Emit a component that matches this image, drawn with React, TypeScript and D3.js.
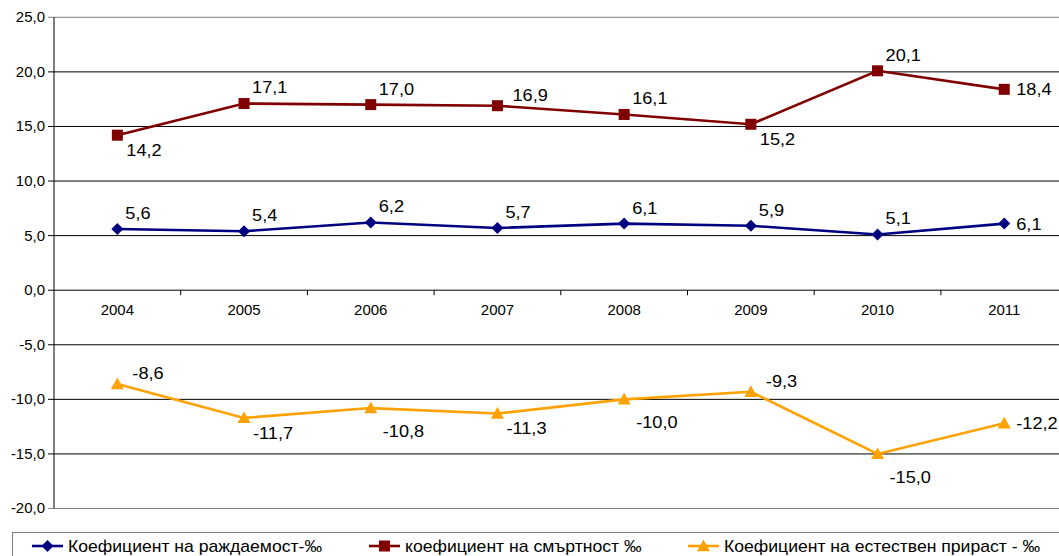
import React from "react";
import * as d3 from "d3";

const years = ["2004", "2005", "2006", "2007", "2008", "2009", "2010", "2011"];
const birthRate = [5.6, 5.4, 6.2, 5.7, 6.1, 5.9, 5.1, 6.1];
const deathRate = [14.2, 17.1, 17.0, 16.9, 16.1, 15.2, 20.1, 18.4];
const naturalGrowth = [-8.6, -11.7, -10.8, -11.3, -10.0, -9.3, -15.0, -12.2];
const yTicks = [-20, -15, -10, -5, 0, 5, 10, 15, 20, 25];
const seriesNames = [
  "Коефициент на раждаемост-‰",
  "коефициент на смъртност ‰",
  "Коефициент на естествен прираст - ‰",
];
// label placement codes per point (a/A = above-right, b/B = below-right, r = right)
const birthPlace = ["a", "a", "a", "a", "a", "a", "a", "r"];
const deathPlace = ["b", "a", "a", "A", "a", "b", "a", "r"];
const naturalPlace = ["A", "b", "B", "b", "B", "A", "B", "r"];

const W = 1059;
const H = 556;
const left = 54;
const bandW = 126.7;
const top = 17.3;
const bottom = 508.5;

const fmt = (v: number) => v.toFixed(1).replace(".", ",");

const STX = (props: any) => {
  const { x, y, sx = 1.07, anchor = "start", size = 16, children } = props;
  return (
    <g transform={`translate(${x},${y}) scale(${sx},1)`}>
      <text x={0} y={0} dy="0.35em" textAnchor={anchor} fontSize={size} fill="#000">
        {children}
      </text>
    </g>
  );
};

export default function App() {
  const x = d3
    .scaleBand<string>()
    .domain(years)
    .range([left, left + bandW * years.length]);
  const cx = (y: string) => (x(y) as number) + x.bandwidth() / 2;
  const y = d3.scaleLinear().domain([-20, 25]).range([bottom, top]);
  const line = d3
    .line<number>()
    .x((_, i) => cx(years[i]))
    .y((d) => y(d));

  const series = [
    { data: birthRate, color: "#000080", marker: "diamond", place: birthPlace },
    { data: deathRate, color: "#800000", marker: "square", place: deathPlace },
    { data: naturalGrowth, color: "#FFA200", marker: "triangle", place: naturalPlace },
  ];

  const marker = (type: string, px: number, py: number, color: string, key?: any) => {
    if (type === "diamond") {
      const s = 6;
      return (
        <path
          key={key}
          d={`M${px},${py - s}L${px + s},${py}L${px},${py + s}L${px - s},${py}Z`}
          fill={color}
        />
      );
    }
    if (type === "square") {
      const s = 5.5;
      return <rect key={key} x={px - s} y={py - s} width={2 * s} height={2 * s} fill={color} />;
    }
    const s = 6.5;
    return (
      <path
        key={key}
        d={`M${px},${py - s}L${px + s},${py + s * 0.8}L${px - s},${py + s * 0.8}Z`}
        fill={color}
      />
    );
  };

  const labelPos = (code: string, px: number, py: number) => {
    if (code === "a") return { x: px + 8, y: py - 16 };
    if (code === "A") return { x: px + 15, y: py - 11 };
    if (code === "b") return { x: px + 9, y: py + 15 };
    if (code === "B") return { x: px + 12, y: py + 23 };
    return { x: px + 12, y: py };
  };

  const legendX = [32, 369, 688];

  return (
    <svg
      width={W}
      height={H}
      style={{ position: "absolute", left: 0, top: 0, display: "block" }}
      fontFamily="'Liberation Sans', Arial, sans-serif"
    >
      <rect width={W} height={H} fill="#fff" />
      {yTicks.map((t) => (
        <g key={t}>
          <line
            x1={left - 6}
            x2={W + 20}
            y1={y(t)}
            y2={y(t)}
            stroke={t === 25 || t === -20 ? "#808080" : "#000"}
            strokeWidth={1}
          />
          <STX x={left - 9} y={y(t)} anchor="end" size={14}>
            {fmt(t)}
          </STX>
        </g>
      ))}
      <line x1={left} x2={left} y1={top} y2={bottom} stroke="#000" strokeWidth={1} />
      {years.map((yr, i) => (
        <g key={yr}>
          {i > 0 && (
            <line
              x1={x(yr)}
              x2={x(yr)}
              y1={y(0)}
              y2={y(0) + 5}
              stroke="#000"
              strokeWidth={1}
            />
          )}
          <STX x={cx(yr)} y={y(0) + 20} anchor="middle" size={14}>
            {yr}
          </STX>
        </g>
      ))}
      {series.map((s, si) => (
        <g key={si}>
          <path d={line(s.data) || ""} fill="none" stroke={s.color} strokeWidth={2.6} />
          {s.data.map((v, i) => marker(s.marker, cx(years[i]), y(v), s.color, i))}
          {s.data.map((v, i) => {
            const p = labelPos(s.place[i], cx(years[i]), y(v));
            return (
              <STX key={"l" + i} x={p.x} y={p.y} size={17}>
                {fmt(v)}
              </STX>
            );
          })}
        </g>
      ))}
      <rect x={12.5} y={532.5} width={1100} height={60} fill="#fff" stroke="#808080" strokeWidth={1} />
      {series.map((s, si) => (
        <g key={"lg" + si}>
          <line
            x1={legendX[si]}
            x2={legendX[si] + 31}
            y1={546}
            y2={546}
            stroke={s.color}
            strokeWidth={2.6}
          />
          {marker(s.marker, legendX[si] + 15.5, 546, s.color)}
          <STX x={legendX[si] + 36} y={546} size={16} sx={1.1}>
            {seriesNames[si]}
          </STX>
        </g>
      ))}
    </svg>
  );
}
